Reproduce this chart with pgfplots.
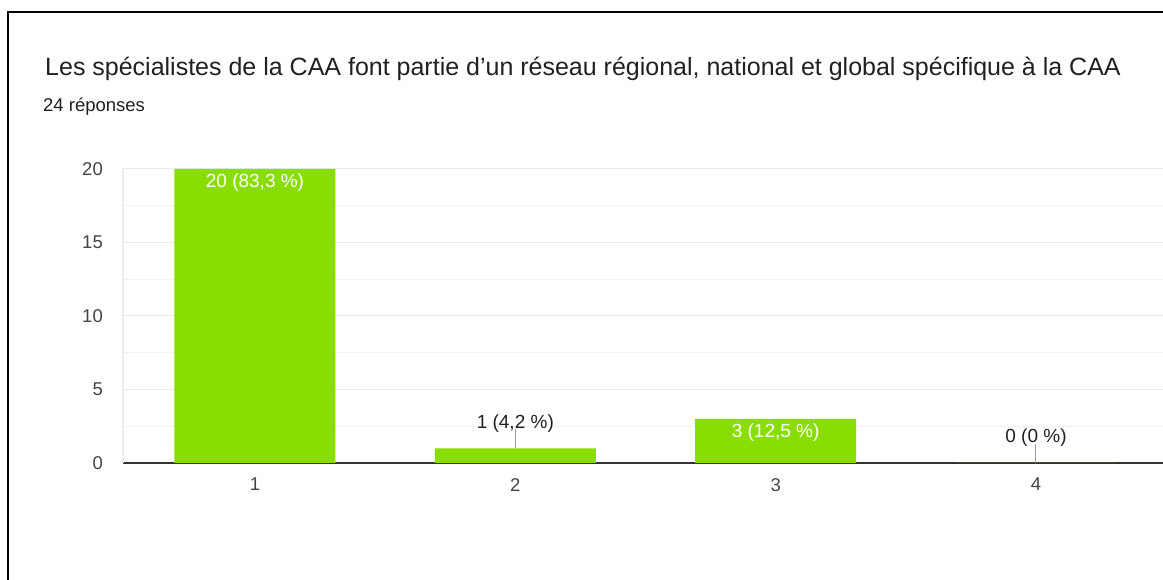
\documentclass[border=0pt]{standalone}
\usepackage{pgfplots}
\pgfplotsset{compat=1.18}
\usepackage{fontspec}
\setmainfont{Liberation Sans}
\definecolor{barg}{HTML}{8ADD00}
\definecolor{txt}{HTML}{212121}
\definecolor{ticktxt}{HTML}{444444}
\definecolor{gridc}{HTML}{EBEBEB}
\definecolor{leader}{HTML}{999999}
\begin{document}
\begin{tikzpicture}
\useasboundingbox (0pt,0pt) rectangle (1163pt,580pt);
\fill[white] (0pt,0pt) rectangle (1163pt,580pt);
\draw[black, line width=2pt] (8pt,-5pt) -- (8pt,568pt) -- (1170pt,568pt);
\node[anchor=base west, font=\fontsize{25}{29}\selectfont, text=txt, inner sep=0pt] at (45pt,504pt)
  {Les spécialistes de la CAA font partie d’un réseau régional, national et global spécifique à la CAA};
\node[anchor=base west, font=\fontsize{18.5}{22}\selectfont, text=txt, inner sep=0pt] at (43pt,468pt) {24 réponses};
\begin{axis}[
  at={(123pt,117pt)}, anchor=south west,
  scale only axis, width=1040pt, height=294pt,
  xmin=0.493, xmax=4.488, ymin=0, ymax=20,
  axis x line=bottom, axis y line=left,
  axis line style={-},
  x axis line style={draw=black!80, line width=1.3pt},
  y axis line style={draw=gridc, line width=1pt},
  xtick={1,2,3,4}, ytick={0,5,10,15,20},
  minor ytick={2.5,7.5,12.5,17.5},
  major tick length=0pt, minor tick length=0pt,
  ymajorgrids, yminorgrids,
  major grid style={draw=gridc, line width=1pt},
  minor grid style={draw=gridc!70, line width=1pt},
  /pgf/number format/assume math mode=true,
  ticklabel style={font=\fontsize{18.5}{21}\selectfont, text=ticktxt, inner sep=0pt},
  yticklabel style={anchor=east, xshift=-20pt},
  xticklabel style={anchor=north, yshift=-15pt},
  point meta=explicit symbolic,
]
\addplot[ybar, bar shift=0pt, bar width=161pt, fill=barg, draw=none,
  nodes near coords,
  every node near coord/.append style={anchor=north, inner sep=0pt, yshift=-5pt, text=white, font=\fontsize{19}{22}\selectfont}]
  coordinates {(1,20) [20 (83,3 \%)] (3,3) [3 (12,5 \%)]};
\addplot[ybar, bar shift=0pt, bar width=161pt, fill=barg, draw=none,
  nodes near coords,
  every node near coord/.append style={anchor=south, inner sep=0pt, yshift=16pt, text=txt, font=\fontsize{19}{22}\selectfont}]
  coordinates {(2,1) [1 (4,2 \%)] (4,0) [0 (0 \%)]};
\draw[leader, line width=1pt] (axis cs:2,1) -- ++(0pt,19pt);
\draw[leader, line width=1pt] (axis cs:4,0) -- ++(0pt,19pt);
\end{axis}
\end{tikzpicture}
\end{document}
